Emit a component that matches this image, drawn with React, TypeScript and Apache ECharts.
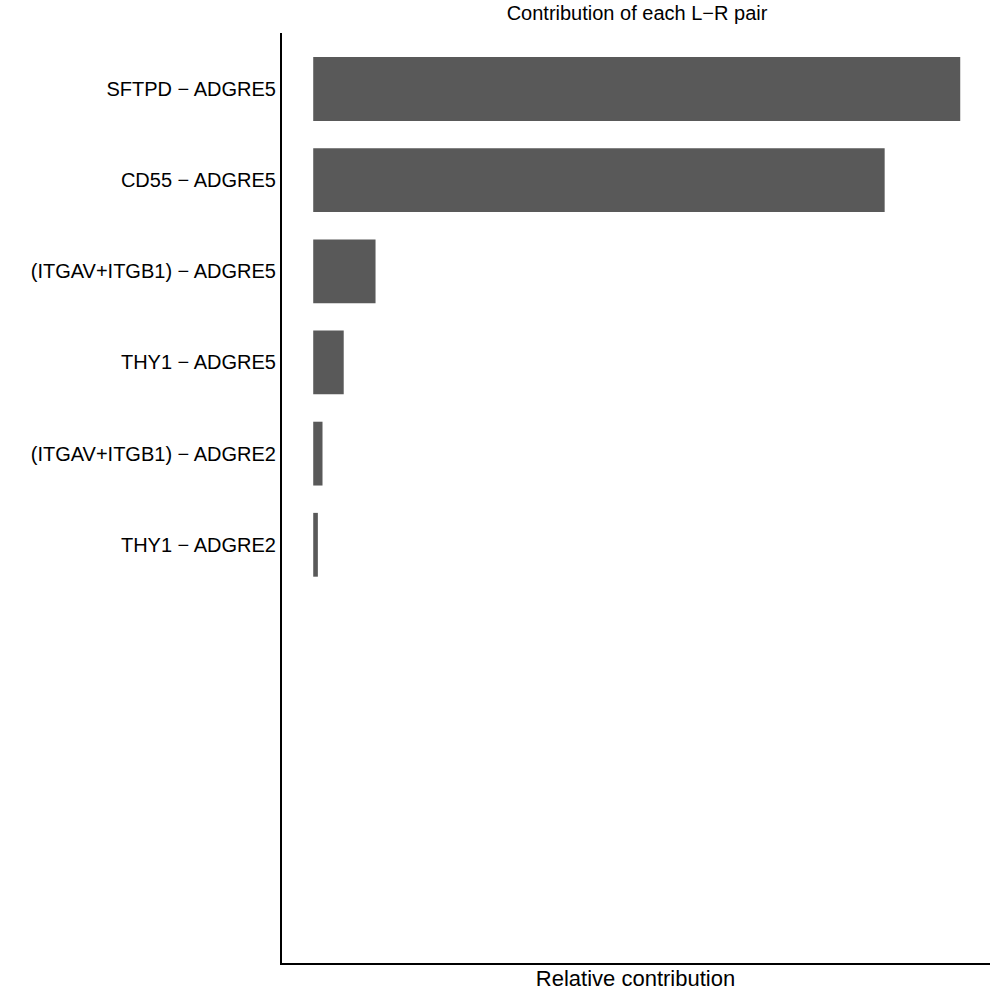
import React, { useEffect, useRef } from "react";
import * as echarts from "echarts";

// Categories (top to bottom); four empty slots at the bottom of the axis
const pairs = [
  "SFTPD − ADGRE5",
  "CD55 − ADGRE5",
  "(ITGAV+ITGB1) − ADGRE5",
  "THY1 − ADGRE5",
  "(ITGAV+ITGB1) − ADGRE2",
  "THY1 − ADGRE2",
  " ",
  "  ",
  "   ",
  "    ",
];
const contributions = [0.488, 0.431, 0.047, 0.023, 0.007, 0.0035];

const titleText = "Contribution of each L−R pair";
const xAxisTitle = "Relative contribution";

const FONT = "'Liberation Sans', Arial, Helvetica, sans-serif";

export default function App() {
  const ref = useRef<HTMLDivElement>(null);
  useEffect(() => {
    document.body.style.margin = "0";
    if (!ref.current) return;
    const chart = echarts.init(ref.current, null, { renderer: "svg" });
    const maxV = Math.max(...contributions);
    chart.setOption({
      animation: false,
      backgroundColor: "#ffffff",
      title: {
        text: titleText,
        left: 632,
        top: -2,
        textAlign: "center",
        textStyle: {
          fontSize: 20,
          fontWeight: "normal",
          color: "#000",
          fontFamily: FONT,
        },
      },
      grid: { left: 281, right: 0, top: 43.4, bottom: 38.6, containLabel: false },
      xAxis: {
        type: "value",
        min: -maxV * 0.0498,
        max: maxV * 1.046,
        offset: 9,
        axisLine: { show: true, lineStyle: { color: "#000", width: 2 } },
        axisTick: { show: false },
        axisLabel: { show: false },
        splitLine: { show: false },
        name: xAxisTitle,
        nameLocation: "middle",
        nameGap: 3,
        nameTextStyle: {
          fontSize: 22,
          color: "#000",
          fontFamily: FONT,
          verticalAlign: "top",
        },
      },
      yAxis: {
        type: "category",
        data: pairs,
        inverse: true,
        axisLine: { show: false },
        axisTick: { show: false },
        axisLabel: {
          margin: 5,
          fontSize: 20,
          color: "#000",
          fontFamily: FONT,
        },
        splitLine: { show: false },
      },
      series: [
        {
          type: "bar",
          data: contributions,
          barCategoryGap: "30%",
          itemStyle: { color: "#595959" },
        },
      ],
      graphic: [
        {
          type: "line",
          shape: { x1: 281, y1: 33, x2: 281, y2: 965 },
          style: { stroke: "#000", lineWidth: 2 },
        },
      ],
    });
    return () => chart.dispose();
  }, []);
  return <div ref={ref} style={{ width: 990, height: 994 }} />;
}
